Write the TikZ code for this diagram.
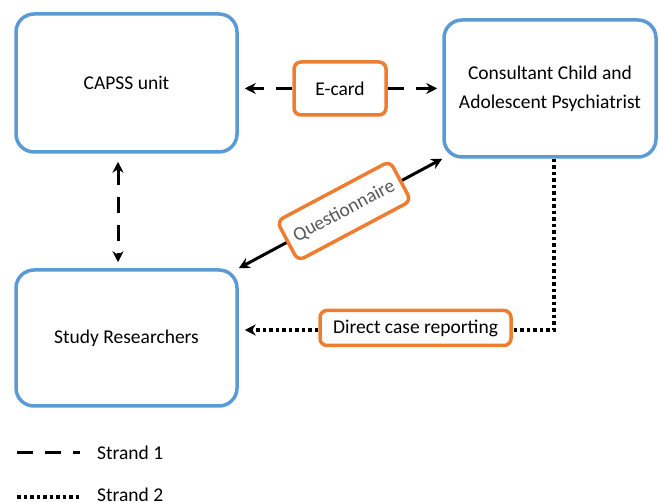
\documentclass[tikz,border=0pt]{standalone}
\usepackage{fontspec}
\setmainfont{Carlito}
\usetikzlibrary{arrows.meta,calc}
\definecolor{boxblue}{HTML}{5B9BD5}
\definecolor{boxorange}{HTML}{ED7D31}
\definecolor{qgray}{HTML}{595959}
\begin{document}
\begin{tikzpicture}[x=1pt,y=-1pt,
  font=\fontsize{19.5}{29}\selectfont,
  bigbox/.style={draw=boxblue,line width=3.5pt,rounded corners=18pt,minimum width=221pt,minimum height=138pt,align=center,fill=white},
  tagbox/.style={draw=boxorange,line width=3.5pt,rounded corners=7pt,fill=white,inner sep=0pt},
  conn/.style={line width=3pt,black},
  strandone/.style={conn,dash pattern=on 16pt off 12pt},
  strandtwo/.style={conn,line width=3.5pt,dash pattern=on 3.5pt off 3pt},
  endtip/.style={-{Stealth[length=11pt,width=11pt]}},
  bothtips/.style={{Stealth[length=11pt,width=11pt]}-{Stealth[length=11pt,width=11pt]}}
]
\useasboundingbox (0,0) rectangle (659,502);
\node[bigbox] (capss) at (126.5,83) {CAPSS unit};
\node[bigbox, minimum width=212pt, minimum height=137pt] (consult) at (550,88.5) {\rule{0pt}{6pt}Consultant Child and\\Adolescent Psychiatrist};
\node[bigbox, minimum height=136pt] (study) at (126.5,338) {Study Researchers};
\node[tagbox, minimum width=92pt, minimum height=53pt] (ecard) at (340,88.5) {E-card};
\node[tagbox, minimum width=191pt, minimum height=35pt] (direct) at (415.5,328) {Direct case reporting};

\draw[strandone,endtip,shorten >=6pt] (ecard.west) -- (capss.east |- ecard.west);
\draw[strandone,endtip,shorten >=5pt] (ecard.east) -- (consult.west |- ecard.east);
\draw[strandone,bothtips,shorten <=8pt,shorten >=6pt] ([xshift=-8.5pt]capss.south) -- ([xshift=-8.5pt]study.north);

\draw[conn,bothtips] (study.north east) -- (consult.south west);
\node[tagbox, minimum width=128pt, minimum height=45pt, rotate=28, text=qgray] (quest) at (344,211) {Questionnaire};

\coordinate (bend) at (554,330);
\draw[strandtwo] (consult.south -| bend) -- (bend) -- (direct.east |- bend);
\draw[strandtwo,endtip,shorten >=6pt] (direct.west |- bend) -- (study.east |- bend);

\coordinate (s1a) at (17,453);
\coordinate (s1b) at (80,453);
\draw[strandone] (s1a) -- (s1b);
\node[anchor=west,inner sep=0pt] (s1) at (97,453) {Strand 1};
\coordinate (s2a) at (17,497);
\coordinate (s2b) at (81,497);
\draw[strandtwo] (s2a) -- (s2b);
\node[anchor=west,inner sep=0pt] (s2) at (97,495) {Strand 2};
\end{tikzpicture}
\end{document}
